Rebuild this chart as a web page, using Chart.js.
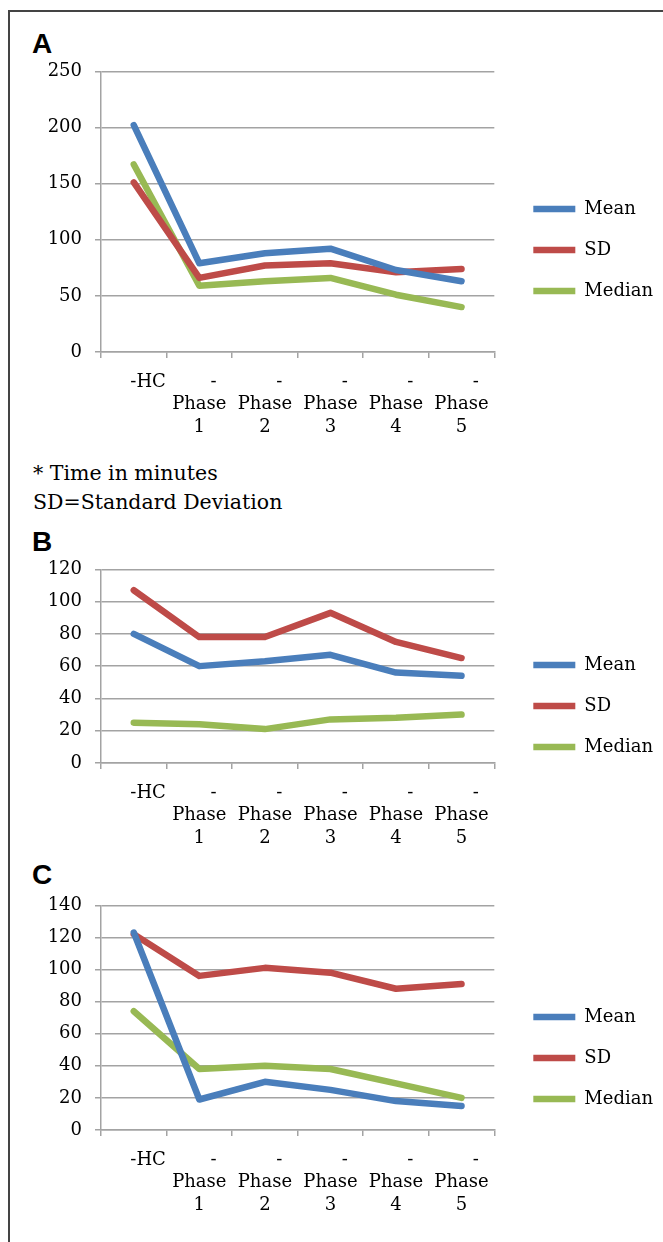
<!DOCTYPE html>
<html>
<head>
<meta charset="utf-8">
<script src="https://cdn.jsdelivr.net/npm/chart.js@4"></script>
<style>
html,body{margin:0;padding:0;background:#fff;}
#frame{position:relative;width:663px;height:1242px;overflow:hidden;background:#fff;}
#border{position:absolute;left:8px;top:10px;width:700px;height:1300px;border-left:2px solid #444;border-top:2px solid #444;}
.plabel{position:absolute;left:32px;font:bold 28px "Liberation Sans",Arial,sans-serif;line-height:28px;color:#000;}
.note{position:absolute;left:33px;top:459px;font:20.5px "DejaVu Serif",serif;line-height:29px;color:#000;white-space:nowrap;}
canvas{position:absolute;left:10px;}
</style>
</head>
<body>
<div id="frame">
  <div id="border"></div>
  <div class="plabel" style="top:30px">A</div>
  <div class="note">* Time in minutes<br>SD=Standard Deviation</div>
  <div class="plabel" style="top:528px">B</div>
  <div class="plabel" style="top:861px">C</div>
  <canvas id="chartA" width="653" height="392" style="top:47px"></canvas>
  <canvas id="chartB" width="653" height="305" style="top:545px"></canvas>
  <canvas id="chartC" width="653" height="336" style="top:881px"></canvas>
</div>
<script>
// ---- data ----
const categories = [
  ['     -HC'],
  ['     -', 'Phase', '1'],
  ['     -', 'Phase', '2'],
  ['     -', 'Phase', '3'],
  ['     -', 'Phase', '4'],
  ['     -', 'Phase', '5']
];
const seriesNames = ['Mean', 'SD', 'Median'];

const meanA   = [202, 79, 88, 92, 73, 63];
const sdA     = [151, 66, 77, 79, 71, 74];
const medianA = [167, 59, 63, 66, 51, 40];

const meanB   = [80, 60, 63, 67, 56, 54];
const sdB     = [107, 78, 78, 93, 75, 65];
const medianB = [25, 24, 21, 27, 28, 30];

const meanC   = [123, 19, 30, 25, 18, 15];
const sdC     = [122, 96, 101, 98, 88, 91];
const medianC = [74, 38, 40, 38, 29, 20];

const yTicksA = [0, 50, 100, 150, 200, 250];
const yTicksB = [0, 20, 40, 60, 80, 100, 120];
const yTicksC = [0, 20, 40, 60, 80, 100, 120, 140];

// ---- styles ----
const COLORS = ['#4A7EBB', '#BE4B48', '#98B954'];
const GRID = '#a3a3a3';
const FONT = {family: '"DejaVu Serif", serif', size: 18, lineHeight: 1.25};

function makeChart(id, values, yTicks, legendTop) {
  const yMax = yTicks[yTicks.length - 1];
  const step = yTicks[1] - yTicks[0];
  return new Chart(document.getElementById(id), {
    type: 'line',
    data: {
      labels: categories,
      datasets: values.map((v, i) => ({
        label: seriesNames[i],
        data: v,
        borderColor: COLORS[i],
        backgroundColor: COLORS[i],
        borderWidth: 6.5,
        borderCapStyle: 'round',
        borderJoinStyle: 'round',
        pointRadius: 0,
        tension: 0
      }))
    },
    options: {
      responsive: false,
      animation: false,
      devicePixelRatio: 1,
      layout: {padding: {top: 0, bottom: 0, left: 0, right: 0}},
      plugins: {
        tooltip: {enabled: false},
        legend: {
          position: 'right',
          align: 'start',
          maxWidth: 220,
          title: {display: true, text: '', padding: {top: legendTop - 10, bottom: 0}, font: {size: 10, lineHeight: 1}},
          labels: {
            usePointStyle: true,
            pointStyle: 'line',
            pointStyleWidth: 42,
            padding: 23,
            color: '#000',
            font: {family: '"DejaVu Serif", serif', size: 18}
          }
        }
      },
      scales: {
        x: {
          type: 'category',
          offset: true,
          grid: {offset: true, drawOnChartArea: false, drawTicks: true, tickLength: 6, color: GRID, lineWidth: 1.5},
          border: {display: true, color: GRID, width: 1.5},
          ticks: {autoSkip: false, maxRotation: 0, minRotation: 0, padding: 13, color: '#000', font: FONT},
          afterFit(s) { s.height = 87; }
        },
        y: {
          min: 0,
          max: yMax,
          ticks: {stepSize: step, padding: 13, color: '#000', font: FONT},
          grid: {color: GRID, lineWidth: 1.5, tickLength: 6},
          border: {color: GRID, width: 1.5},
          afterFit(s) { s.width = 91; }
        },
        gap: {
          position: 'right',
          display: true,
          grid: {display: false},
          border: {display: false},
          ticks: {display: false},
          afterFit(s) { s.width = 16; }
        }
      }
    }
  });
}

makeChart('chartA', [meanA, sdA, medianA], yTicksA, 130);
makeChart('chartB', [meanB, sdB, medianB], yTicksB, 88);
makeChart('chartC', [meanC, sdC, medianC], yTicksC, 104);
</script>
</body>
</html>
